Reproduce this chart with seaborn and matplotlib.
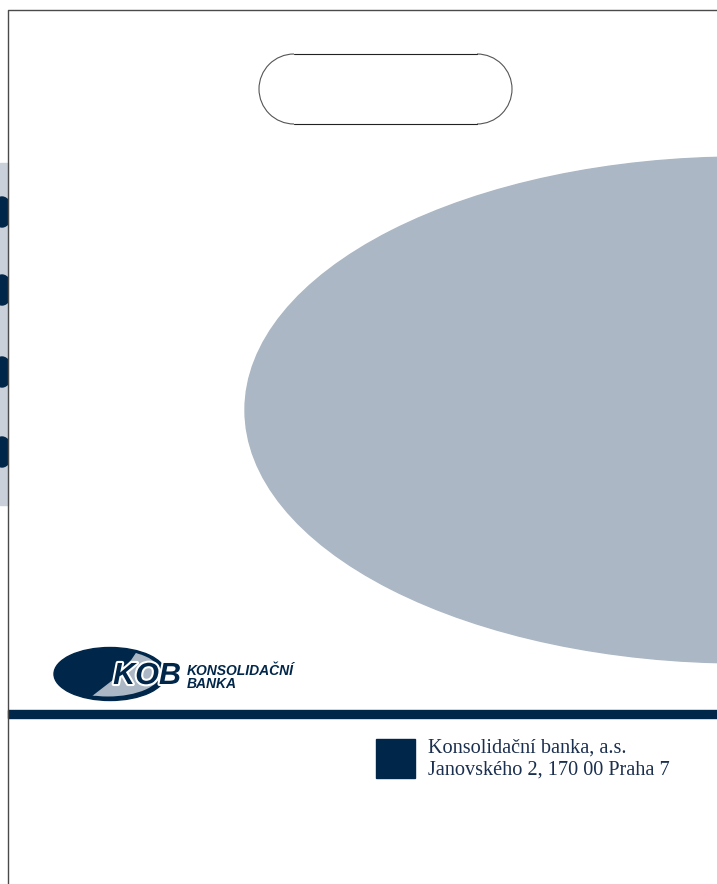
import numpy as np
import seaborn as sns
import matplotlib.pyplot as plt
from matplotlib.patches import Ellipse, Rectangle, Arc, Polygon
import matplotlib.patheffects as pe

# colours
navy = "#002649"
steel = "#abb7c4"
frame = "#4a4a4a"

# bag outline (left edge and top edge)
border_x = [8, 8, 717]
border_y = [884, 10, 10]

# handle hole
handle_left, handle_right = 294, 477
handle_mid, handle_r = 89, 35

# big background ellipse
big_center = (742, 410)
big_size = (994, 506)

# logo
logo_center = (110, 674)
logo_size = (112, 53)
swoosh_pts = [(144, 642), (132, 660), (114, 680), (92, 697), (112, 703), (150, 703), (180, 690), (180, 642)]

# address block
address_lines = ["Konsolidační banka, a.s.", "Janovského 2, 170 00 Praha 7"]
bank_lines = ["KONSOLIDAČNÍ", "BANKA"]

# side strip marks (neighbouring bag printed on the side)
strip_marks_y = [212, 290, 372, 452]

sns.set_theme(style="white")
plt.rcParams['font.family'] = ['DejaVu Sans']

fig = plt.figure(figsize=(7.17, 8.84), dpi=100)
ax = fig.add_axes([0, 0, 1, 1])
ax.set_xlim(0, 717)
ax.set_ylim(884, 0)
ax.axis('off')

# side strip
strip = Rectangle((0, 163), 8, 342, color="#c9d0d9", zorder=1)
ax.add_patch(strip)
for y in strip_marks_y:
    m = Ellipse((2, y), 20, 30, color=navy, zorder=2)
    ax.add_patch(m)
    m.set_clip_path(strip)

# big ellipse
ax.add_patch(Ellipse(big_center, big_size[0], big_size[1], color=steel, zorder=1))

# outline
sns.lineplot(x=border_x, y=border_y, sort=False, estimator=None, color=frame, lw=1.0, ax=ax, zorder=5)

# handle
ax.plot([handle_left, handle_right], [handle_mid - handle_r] * 2, color="#222222", lw=0.8)
ax.plot([handle_left, handle_right], [handle_mid + handle_r] * 2, color="#222222", lw=0.8)
ax.add_patch(Arc((handle_left, handle_mid), 2 * handle_r, 2 * handle_r, theta1=90, theta2=270, color="#555555", lw=0.8))
ax.add_patch(Arc((handle_right, handle_mid), 2 * handle_r, 2 * handle_r, theta1=-90, theta2=90, color="#555555", lw=0.8))

# logo
ax.add_patch(Ellipse(logo_center, logo_size[0], logo_size[1], color=navy, zorder=3))
inner = Ellipse((logo_center[0] - 2, logo_center[1] - 1), logo_size[0] - 6, logo_size[1] - 6,
                transform=ax.transData)
sw = Polygon(swoosh_pts, closed=True, color=steel, zorder=4)
ax.add_patch(sw)
sw.set_clip_path(inner)
ax.text(147, 676, "KOB", fontsize=22, fontweight='bold', fontstyle='italic', color=navy,
        ha='center', va='center', zorder=6, family=['Liberation Sans', 'DejaVu Sans'],
        path_effects=[pe.withStroke(linewidth=3, foreground="white")])
for i, line in enumerate(bank_lines):
    ax.text(187, 671 + i * 13, line, fontsize=10, fontweight='bold', fontstyle='italic', color=navy,
            ha='left', va='center', family=['Liberation Sans', 'DejaVu Sans'])

# navy band
ax.add_patch(Rectangle((8, 710), 709, 8, color=navy, zorder=3))

# address
ax.add_patch(Rectangle((376, 739), 39, 39, color=navy, zorder=3))
for i, line in enumerate(address_lines):
    ax.text(428, 753 + i * 22, line, fontsize=14.6, color="#1b2f4f", ha='left', va='baseline',
            family=['Liberation Serif', 'DejaVu Serif'])

fig.savefig("out.png", dpi=100)
